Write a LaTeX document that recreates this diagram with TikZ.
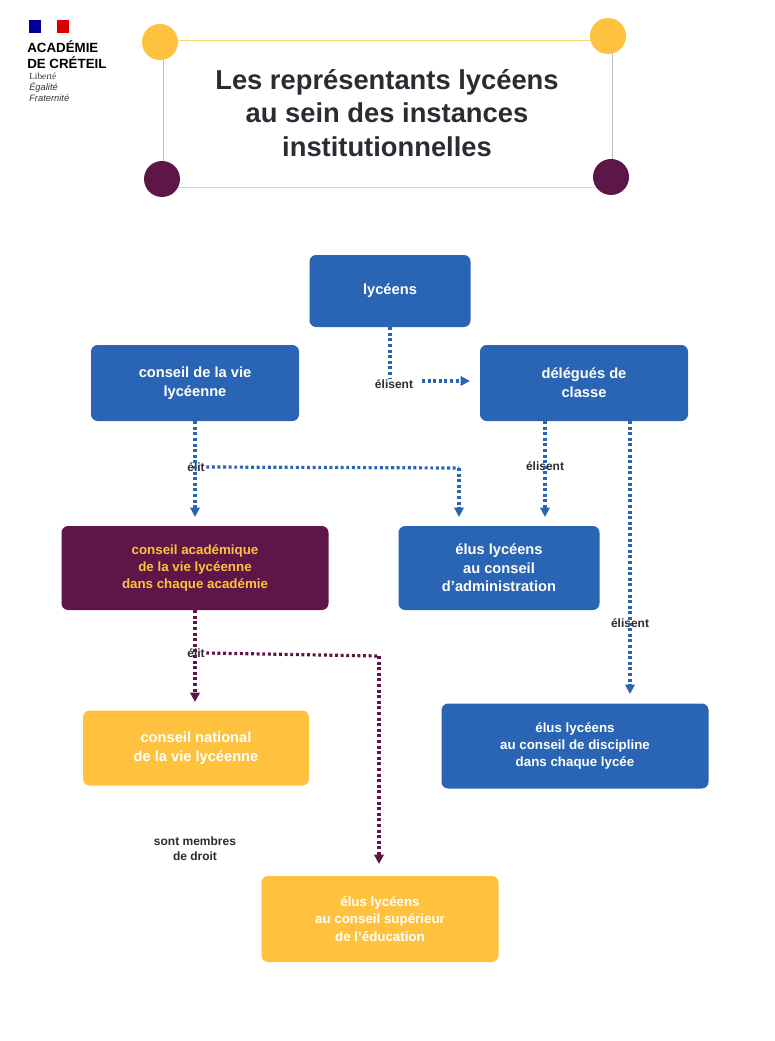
\documentclass[tikz,border=0pt]{standalone}
\usepackage{fontspec}
\setmainfont{Liberation Sans}
\usetikzlibrary{arrows.meta}
\definecolor{bl}{HTML}{2A64B4}
\definecolor{pu}{HTML}{5E1648}
\definecolor{ye}{HTML}{FFC23E}
\definecolor{tx}{HTML}{2B2B33}
\begin{document}
\begin{tikzpicture}[x=0.75pt,y=-0.75pt,
 box/.style={rounded corners=5pt,inner sep=0pt,font=\bfseries\fontsize{11}{14}\selectfont,align=center,text=white},
 lab/.style={font=\bfseries\fontsize{9}{11}\selectfont,text=tx,inner sep=1pt,align=center},
 con/.style={line width=2.4pt,dash pattern=on 2.2pt off 2pt,-{Triangle[length=7pt,width=7pt]}},
 lin/.style={line width=2.4pt,dash pattern=on 2.2pt off 2pt}]
\useasboundingbox (0,0) rectangle (774,1041);
% logo
\fill[blue!60!black] (29,20) rectangle (41,33);
\fill[white] (41,20) rectangle (57,33);
\fill[red!85!black] (57,20) rectangle (69,33);
\node[anchor=north west,inner sep=0pt,font=\bfseries\fontsize{10}{12.5}\selectfont,align=left,text=black] (logo) at (27,40) {ACADÉMIE\\DE CRÉTEIL};
\node[anchor=north west,inner sep=0pt,font=\itshape\fontsize{7}{8}\selectfont,align=left,text=black!80] (dev) at (29,73) {\setmainfont{Liberation Serif}Liberté\\Égalité\\Fraternité};
% title frame
\draw[ye!70,line width=0.6pt] (163,40) -- (612,40);
\draw[black!25,line width=0.6pt] (163,40) -- (163,187);
\draw[ye!70,line width=0.6pt] (163,187) -- (612,187);
\draw[black!25,line width=0.6pt] (612,40) -- (612,187);
\fill[ye] (160,42) circle (18);
\fill[ye] (608,36) circle (18);
\fill[pu] (162,179) circle (18);
\fill[pu] (611,177) circle (18);
\node[font=\bfseries\fontsize{20.5}{25}\selectfont,align=center,text=tx] (title) at (387,113) {Les représentants lycéens\\au sein des instances\\institutionnelles};
% boxes
\node[box,fill=bl,minimum width=161*0.75pt,minimum height=72*0.75pt] (lyc) at (390,291) {lycéens};
\node[box,fill=bl,minimum width=208*0.75pt,minimum height=76*0.75pt] (cvl) at (195,383) {conseil de la vie\\lycéenne};
\node[box,fill=bl,minimum width=208*0.75pt,minimum height=76*0.75pt] (del) at (584,383) {délégués de\\classe};
\node[box,fill=pu,text=ye,font=\bfseries\fontsize{10}{13}\selectfont,minimum width=267*0.75pt,minimum height=84*0.75pt] (cavl) at (195,568) {conseil académique\\de la vie lycéenne\\dans chaque académie};
\node[box,fill=bl,minimum width=201*0.75pt,minimum height=84*0.75pt] (ca) at (499,568) {élus lycéens\\au conseil\\d'administration};
\node[box,fill=ye,minimum width=226*0.75pt,minimum height=75*0.75pt] (cnvl) at (196,748) {conseil national\\de la vie lycéenne};
\node[box,fill=bl,font=\bfseries\fontsize{10}{13}\selectfont,minimum width=267*0.75pt,minimum height=85*0.75pt] (cd) at (575,746) {élus lycéens\\au conseil de discipline\\dans chaque lycée};
\node[box,fill=ye,font=\bfseries\fontsize{10}{13}\selectfont,minimum width=237*0.75pt,minimum height=86*0.75pt] (cse) at (380,919) {élus lycéens\\au conseil supérieur\\de l'éducation};
% labels
\node[lab] (l1) at (394,384) {élisent};
\node[lab] (l2) at (196,467) {élit};
\node[lab] (l3) at (545,466) {élisent};
\node[lab] (l4) at (630,623) {élisent};
\node[lab] (l5) at (196,653) {élit};
\node[lab] (l6) at (195,849) {sont membres\\de droit};
\coordinate (a1) at (390,378);
\coordinate (s1) at (422,381);
\coordinate (e1) at (470,381);
\coordinate (c1) at (459,468);
\coordinate (e2) at (459,517);
\coordinate (e3) at (195,517);
\coordinate (d1) at (545,421);
\coordinate (e4) at (545,517);
\coordinate (d2) at (630,421);
\coordinate (e5) at (630,694);
\coordinate (e6) at (195,702);
\coordinate (c2) at (379,656);
\coordinate (e7) at (379,864);
% connectors
\draw[lin,bl] (lyc.south) -- (a1);
\draw[con,bl] (s1) -- (e1);
\draw[con,bl] (cvl.south) -- (e3);
\draw[lin,bl] (l2.east) -- (c1);
\draw[con,bl] (c1) -- (e2);
\draw[con,bl] (d1) -- (e4);
\draw[con,bl] (d2) -- (e5);
\draw[con,pu] (cavl.south) -- (e6);
\draw[lin,pu] (l5.east) -- (c2);
\draw[con,pu] (c2) -- (e7);
\end{tikzpicture}
\end{document}
